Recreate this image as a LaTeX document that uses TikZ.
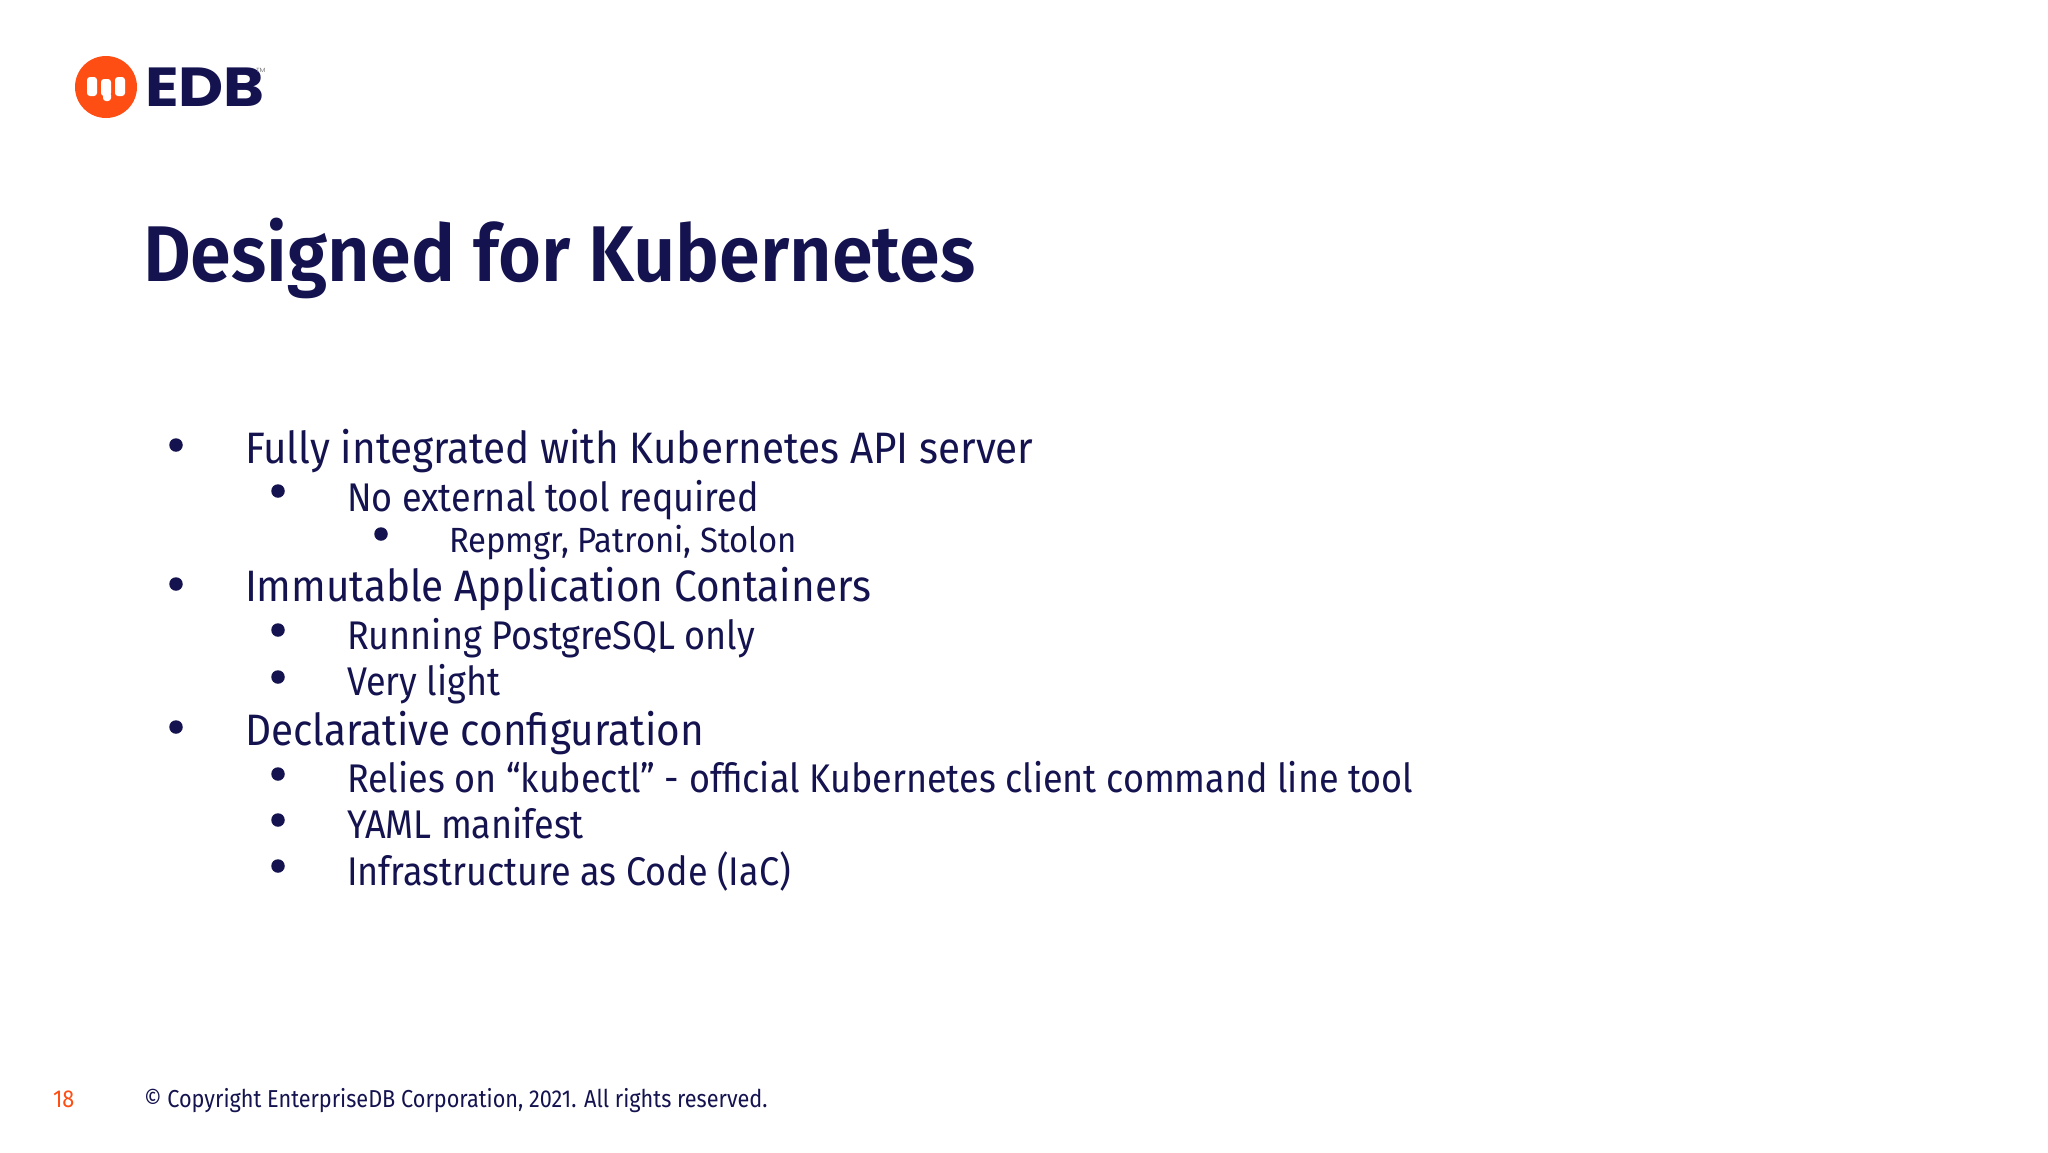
\documentclass[tikz,border=0pt]{standalone}
\usepackage{fontspec}
\setmainfont{Fira Sans}
\newfontfamily\fa[FakeStretch=0.92]{Fira Sans}
\newfontfamily\fb[FakeStretch=0.90]{Fira Sans}
\newfontfamily\fc[FakeStretch=0.938]{Fira Sans}
\newfontfamily\fd[FakeStretch=0.885]{Fira Sans}
\newfontfamily\ft[FakeStretch=0.933,BoldFont={* SemiBold}]{Fira Sans}
\newfontfamily\logof[FakeStretch=1.13]{Poppins}
\definecolor{navy}{HTML}{14134F}
\definecolor{edborange}{HTML}{FF4E14}
\tikzset{
  txt/.style={anchor=base west,inner sep=0pt,outer sep=0pt,text=navy},
  lone/.style={txt,font=\fa\fontsize{44}{44}\selectfont},
  ltwo/.style={txt,font=\fb\fontsize{40}{40}\selectfont},
  lthree/.style={txt,font=\fc\fontsize{35}{35}\selectfont},
  foot/.style={txt,font=\fd\fontsize{24.5}{25}\selectfont},
  dot/.style={circle,fill=navy,minimum size=13.5pt,inner sep=0pt,outer sep=0pt},
  mark glyph/.style={fill=white,rounded corners=3pt}
}
\begin{document}
\begin{tikzpicture}[x=1pt,y=-1pt]
\useasboundingbox (0,0) rectangle (2048,1152);
\fill[white] (0,0) rectangle (2048,1152);
% logo
\node[circle,fill=edborange,minimum size=62pt,inner sep=0pt] (logo) at (106,87) {};
\fill[mark glyph] (87,77) rectangle (97,96);
\fill[mark glyph] (101,79) rectangle (111,96);
\fill[mark glyph] (103,92) rectangle (111,101);
\fill[mark glyph] (115,77) rectangle (125,96);
\node[txt,font=\logof\bfseries\fontsize{55}{55}\selectfont] (edb) at (145,106) {EDB};
\node[txt,font=\logof\fontsize{6}{6}\selectfont,text=gray] (tm) at (256,72) {TM};
% title
\node[txt,font=\ft\bfseries\fontsize{79}{80}\selectfont] (title) at (143,281) {Designed for Kubernetes};
% bullets
\node[dot] (b1) at (176,445) {};
\node[lone] (t1) at (245,463) {Fully integrated with Kubernetes API server};
\node[dot] (b2) at (278,491) {};
\node[ltwo] (t2) at (347,511) {No external tool required};
\node[dot] (b3) at (381,534) {};
\node[lthree] (t3) at (449,552) {Repmgr, Patroni, Stolon};
\node[dot] (b4) at (176,584) {};
\node[lone] (t4) at (245,601) {Immutable Application Containers};
\node[dot] (b5) at (278,630) {};
\node[ltwo] (t5) at (347,649) {Running PostgreSQL only};
\node[dot] (b6) at (278,677) {};
\node[ltwo] (t6) at (347,695) {Very light};
\node[dot] (b7) at (176,727) {};
\node[lone] (t7) at (245,745) {Declarative configuration};
\node[dot] (b8) at (278,774) {};
\node[ltwo] (t8) at (347,792) {Relies on “kubectl” - official Kubernetes client command line tool};
\node[dot] (b9) at (278,820) {};
\node[ltwo] (t9) at (347,838) {YAML manifest};
\node[dot] (b10) at (278,866) {};
\node[ltwo] (t10) at (347,885) {Infrastructure as Code (IaC)};
% footer
\node[foot,text=edborange] (page) at (53,1107) {18};
\node[foot] (copy) at (144,1107) {© Copyright EnterpriseDB Corporation, 2021. All rights reserved.};
\end{tikzpicture}
\end{document}
